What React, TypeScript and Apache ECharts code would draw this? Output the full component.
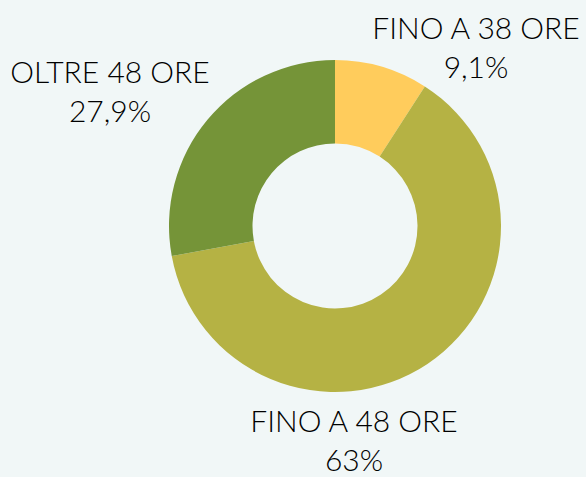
import React, { useEffect, useRef } from "react";
import * as echarts from "echarts";

const categories = ["FINO A 38 ORE", "FINO A 48 ORE", "OLTRE 48 ORE"];
const values = [9.1, 63, 27.9];
const colors = ["#FFCC5C", "#B5B244", "#759438"];
const labelCenters: [number, number][] = [
  [476, 46],
  [354, 439],
  [110, 90],
];

export default function App() {
  const ref = useRef<HTMLDivElement>(null);
  useEffect(() => {
    document.body.style.margin = "0";
    const chart = echarts.init(ref.current!, null, { renderer: "svg" });
    chart.setOption({
      animation: false,
      backgroundColor: "#F1F7F7",
      series: [
        {
          type: "pie",
          center: [335, 226],
          radius: [82.5, 166],
          startAngle: 90,
          clockwise: true,
          data: categories.map((name, i) => ({
            name,
            value: values[i],
            itemStyle: { color: colors[i] },
          })),
          label: {
            show: true,
            position: "inside",
            overflow: "none",
            formatter: (p: any) =>
              `${p.name}\n${String(p.value).replace(".", ",")}%`,
            color: "#000000",
            fontFamily: "Lato",
            fontWeight: 300,
            fontSize: 30,
            lineHeight: 39,
            align: "center",
          },
          labelLine: { show: false },
          labelLayout: (params: any) => ({
            x: labelCenters[params.dataIndex][0],
            y: labelCenters[params.dataIndex][1],
            align: "center",
            verticalAlign: "middle",
          }),
          emphasis: { disabled: true },
        },
      ],
    });
    return () => chart.dispose();
  }, []);
  return (
    <div
      ref={ref}
      style={{ position: "fixed", left: 0, top: 0, width: 586, height: 477 }}
    />
  );
}
